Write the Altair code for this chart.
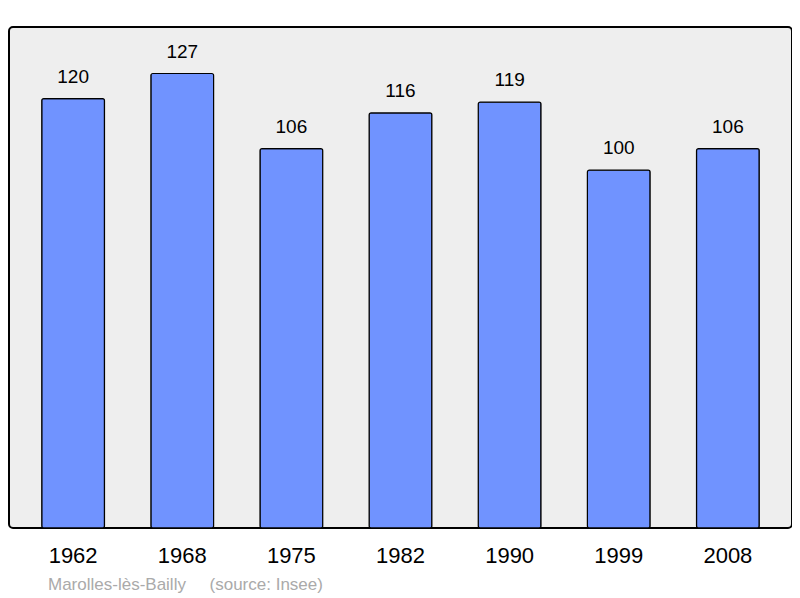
import altair as alt
import pandas as pd

years = ["1962", "1968", "1975", "1982", "1990", "1999", "2008"]
population = [120, 127, 106, 116, 119, 100, 106]

df = pd.DataFrame({"year": years, "pop": population})

x = alt.X("year:O", sort=years,
          scale=alt.Scale(paddingInner=0.425, paddingOuter=0.3),
          axis=alt.Axis(title=None, labelAngle=0, labelFontSize=22, labelColor="black",
                        labelFont="Liberation Sans", ticks=False, domain=False, labelPadding=17))
y = alt.Y("pop:Q", scale=alt.Scale(domain=[0, 140], nice=False, zero=True), axis=None)

bars = alt.Chart(df).mark_bar(color="#7093ff", stroke="black", strokeWidth=1.2,
                             cornerRadius=2).encode(x=x, y=y)
labels = alt.Chart(df).mark_text(dy=-22, fontSize=19, font="Liberation Sans",
                                 color="black").encode(x=x, y=y, text="pop:Q")

chart = (bars + labels).properties(
    width=783, height=501,
    padding={"left": 1, "top": 19, "right": 0, "bottom": 70},
    autosize=alt.AutoSizeParams(type="none"),
    title=alt.TitleParams(
        text="Marolles-lès-Bailly\u00a0\u00a0\u00a0\u00a0\u00a0(source: Insee)",
        orient="bottom", anchor="start", dx=39, offset=11,
        fontSize=17, fontWeight="normal", color="#aaaaaa", font="Liberation Sans"),
).configure_view(fill="#eeeeee", stroke="black", strokeWidth=2, cornerRadius=4)

chart.save("out.html", embed_options={"renderer": "svg", "actions": False})
